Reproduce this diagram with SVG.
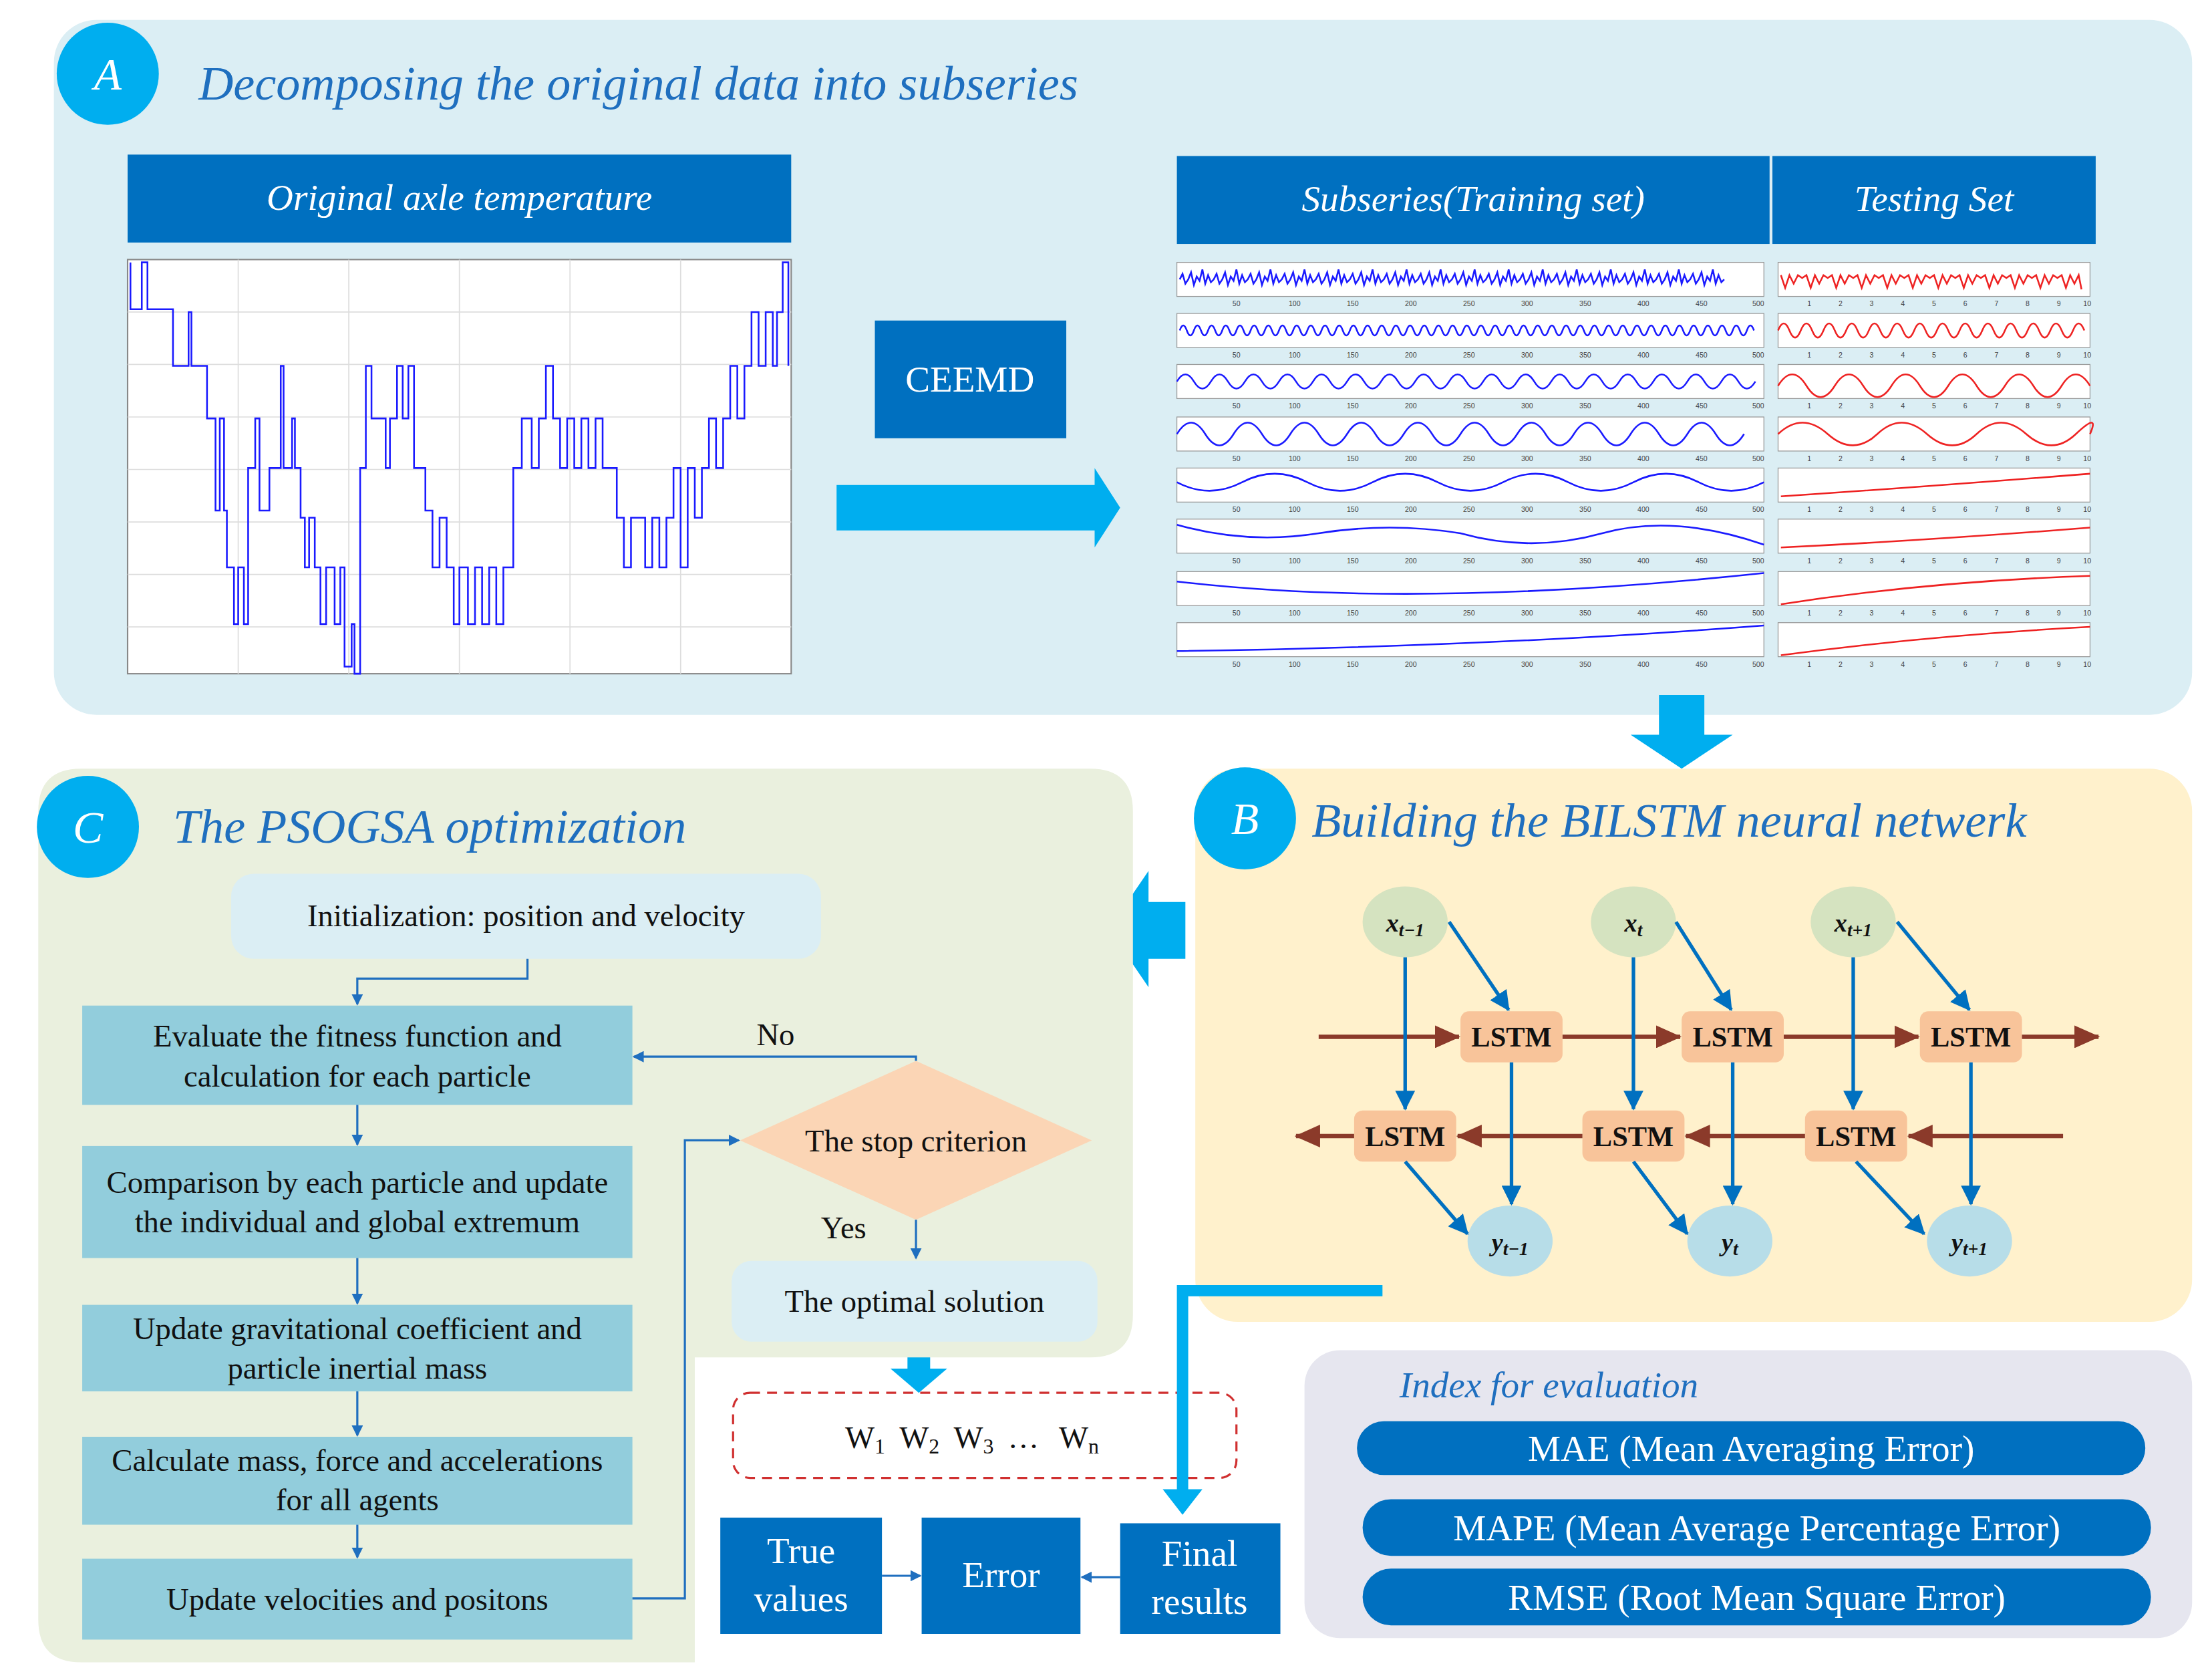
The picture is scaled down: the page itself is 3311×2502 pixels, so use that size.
<svg xmlns="http://www.w3.org/2000/svg" xmlns:xlink="http://www.w3.org/1999/xlink" width="3311" height="2502" viewBox="0 0 3311 2502" font-family="'Liberation Serif', 'DejaVu Serif', serif">
<style>
text{font-family:'Liberation Serif','DejaVu Serif',serif}
.ti{font-style:italic;fill:#1f6fbf;font-size:34px}
.hd{font-style:italic;fill:#fff;font-size:26px;text-anchor:middle}
.wt{fill:#fff;font-size:26px;text-anchor:middle}
.bk{fill:#111;font-size:22px;text-anchor:middle}
.lst{fill:#111;font-size:20px;font-weight:bold;text-anchor:middle}
.var{fill:#111;font-size:18px;font-style:italic;font-weight:bold;text-anchor:middle}
.tk{font-family:'Liberation Sans',Arial,sans-serif;font-size:5px;fill:#444;text-anchor:middle}
.fl{fill:none;stroke:#1f6fbf;stroke-width:1.5}
.bl{fill:none;stroke:#0070c0;stroke-width:2.5}
.rd{fill:none;stroke:#8b3a2a;stroke-width:3}
.sl{fill:none;stroke:#1a1aff;stroke-width:1.2}
.sr{fill:none;stroke:#ee2222;stroke-width:1.2}
.frm{fill:#fff;stroke:#999;stroke-width:0.6}
</style>
<defs>
<marker id="mf" markerWidth="8" markerHeight="8" refX="7" refY="4" orient="auto" markerUnits="userSpaceOnUse"><path d="M0,0 L8,4 L0,8z" fill="#1f6fbf"/></marker>
<marker id="mb" markerWidth="14" markerHeight="14" refX="13" refY="7" orient="auto" markerUnits="userSpaceOnUse"><path d="M0,0 L14,7 L0,14z" fill="#0070c0"/></marker>
<marker id="mr" markerWidth="18" markerHeight="16" refX="17" refY="8" orient="auto" markerUnits="userSpaceOnUse"><path d="M0,0 L18,8 L0,16z" fill="#8b3a2a"/></marker>
<g id="tkL"><text class="tk" x="872">50</text><text class="tk" x="913">100</text><text class="tk" x="954">150</text><text class="tk" x="995">200</text><text class="tk" x="1036">250</text><text class="tk" x="1077">300</text><text class="tk" x="1118">350</text><text class="tk" x="1159">400</text><text class="tk" x="1200">450</text><text class="tk" x="1240">500</text></g>
<g id="tkR"><text class="tk" x="1276">1</text><text class="tk" x="1298">2</text><text class="tk" x="1320">3</text><text class="tk" x="1342">4</text><text class="tk" x="1364">5</text><text class="tk" x="1386">6</text><text class="tk" x="1408">7</text><text class="tk" x="1430">8</text><text class="tk" x="1452">9</text><text class="tk" x="1472">10</text></g>
</defs>
<rect width="3311" height="2502" fill="#fff"/>
<g transform="scale(2.1224)">
<g id="panelA">
<rect x="38" y="14" width="1508" height="490" rx="30" fill="#dbeef4"/>
<circle cx="76" cy="52" r="36" fill="#00aeef"/>
<text x="76" y="63" class="hd" style="font-size:32px">A</text>
<text x="140" y="70" class="ti">Decomposing the original data into subseries</text>
</g>
<g id="origHeader"><rect x="90" y="109" width="468" height="62" fill="#0070c0"/><text x="324" y="148" class="hd">Original axle temperature</text></g>
<g id="origPlot">
<rect x="90" y="183" width="468" height="292" fill="#fff" stroke="#888"/>
<path d="M168,183V475M246,183V475M324,183V475M402,183V475M480,183V475M90,220H558M90,257H558M90,294H558M90,331H558M90,368H558M90,405H558M90,442H558" stroke="#ddd" stroke-width="0.8"/>
<path class="sl" d="M92,185 V218 H100 V185 H104 V218 H122 V258 H133 V220 H135 V258 H146 V295 H152 V360 H155 V295 H158 V360 H160 V400 H165 V440 H168 V400 H172 V440 H175 V330 H180 V295 H183 V360 H190 V330 H198 V258 H200 V330 H206 V295 H208 V330 H212 V365 H215 V400 H218 V365 H222 V400 H226 V440 H230 V400 H236 V440 H240 V400 H243 V470 H248 V440 H250 V475 H254 V330 H258 V258 H262 V295 H272 V330 H275 V295 H280 V258 H284 V295 H288 V258 H292 V330 H300 V360 H305 V400 H310 V365 H315 V400 H320 V440 H324 V400 H330 V440 H335 V400 H340 V440 H345 V400 H350 V440 H355 V400 H362 V330 H368 V295 H375 V330 H380 V295 H385 V258 H390 V295 H395 V330 H400 V295 H405 V330 H410 V295 H415 V330 H420 V295 H425 V330 H435 V365 H440 V400 H445 V365 H455 V400 H460 V365 H465 V400 H470 V365 H475 V330 H480 V400 H485 V330 H490 V365 H495 V330 H500 V295 H505 V330 H510 V295 H515 V258 H520 V295 H525 V258 H530 V220 H535 V258 H540 V220 H545 V258 H548 V220 H552 V185 H556 V258"/>
</g>
<g id="ceemd"><rect x="617" y="226" width="135" height="83" fill="#0070c0"/><text x="684" y="276" class="wt">CEEMD</text></g>
<g id="subHeader"><rect x="830" y="110" width="418" height="62" fill="#0070c0"/><text x="1039" y="149" class="hd">Subseries(Training set)</text></g>
<g id="testHeader"><rect x="1250" y="110" width="228" height="62" fill="#0070c0"/><text x="1364" y="149" class="hd">Testing Set</text></g>
<g id="subplots">
<rect class="frm" x="830" y="185" width="414" height="24"/><rect class="frm" x="830" y="221" width="414" height="24"/><rect class="frm" x="830" y="257" width="414" height="24"/><rect class="frm" x="830" y="294" width="414" height="24"/><rect class="frm" x="830" y="330" width="414" height="24"/><rect class="frm" x="830" y="366" width="414" height="24"/><rect class="frm" x="830" y="403" width="414" height="24"/><rect class="frm" x="830" y="439" width="414" height="24"/>
<rect class="frm" x="1254" y="185" width="220" height="24"/><rect class="frm" x="1254" y="221" width="220" height="24"/><rect class="frm" x="1254" y="257" width="220" height="24"/><rect class="frm" x="1254" y="294" width="220" height="24"/><rect class="frm" x="1254" y="330" width="220" height="24"/><rect class="frm" x="1254" y="366" width="220" height="24"/><rect class="frm" x="1254" y="403" width="220" height="24"/><rect class="frm" x="1254" y="439" width="220" height="24"/>
<use xlink:href="#tkL" y="216"/><use xlink:href="#tkL" y="252"/><use xlink:href="#tkL" y="288"/><use xlink:href="#tkL" y="325"/><use xlink:href="#tkL" y="361"/><use xlink:href="#tkL" y="397"/><use xlink:href="#tkL" y="434"/><use xlink:href="#tkL" y="470"/>
<use xlink:href="#tkR" y="216"/><use xlink:href="#tkR" y="252"/><use xlink:href="#tkR" y="288"/><use xlink:href="#tkR" y="325"/><use xlink:href="#tkR" y="361"/><use xlink:href="#tkR" y="397"/><use xlink:href="#tkR" y="434"/><use xlink:href="#tkR" y="470"/>
<path class="sl" d="M832,197 l2,-4 l2,7 l2,-3 l2,-5 l2,9 l2,-6 l2,3 l2,-8 l2,10 l2,-6 l2,5 l2,-2 l2,-4 l2,7 l2,-3 l2,-5 l2,9 l2,-6 l2,3 l2,-8 l2,10 l2,-6 l2,5 l2,-2 l2,-4 l2,7 l2,-3 l2,-5 l2,9 l2,-6 l2,3 l2,-8 l2,10 l2,-6 l2,5 l2,-2 l2,-4 l2,7 l2,-3 l2,-5 l2,9 l2,-6 l2,3 l2,-8 l2,10 l2,-6 l2,5 l2,-2 l2,-4 l2,7 l2,-3 l2,-5 l2,9 l2,-6 l2,3 l2,-8 l2,10 l2,-6 l2,5 l2,-2 l2,-4 l2,7 l2,-3 l2,-5 l2,9 l2,-6 l2,3 l2,-8 l2,10 l2,-6 l2,5 l2,-2 l2,-4 l2,7 l2,-3 l2,-5 l2,9 l2,-6 l2,3 l2,-8 l2,10 l2,-6 l2,5 l2,-2 l2,-4 l2,7 l2,-3 l2,-5 l2,9 l2,-6 l2,3 l2,-8 l2,10 l2,-6 l2,5 l2,-2 l2,-4 l2,7 l2,-3 l2,-5 l2,9 l2,-6 l2,3 l2,-8 l2,10 l2,-6 l2,5 l2,-2 l2,-4 l2,7 l2,-3 l2,-5 l2,9 l2,-6 l2,3 l2,-8 l2,10 l2,-6 l2,5 l2,-2 l2,-4 l2,7 l2,-3 l2,-5 l2,9 l2,-6 l2,3 l2,-8 l2,10 l2,-6 l2,5 l2,-2 l2,-4 l2,7 l2,-3 l2,-5 l2,9 l2,-6 l2,3 l2,-8 l2,10 l2,-6 l2,5 l2,-2 l2,-4 l2,7 l2,-3 l2,-5 l2,9 l2,-6 l2,3 l2,-8 l2,10 l2,-6 l2,5 l2,-2 l2,-4 l2,7 l2,-3 l2,-5 l2,9 l2,-6 l2,3 l2,-8 l2,10 l2,-6 l2,5 l2,-2 l2,-4 l2,7 l2,-3 l2,-5 l2,9 l2,-6 l2,3 l2,-8 l2,10 l2,-6 l2,5 l2,-2 l2,-4 l2,7 l2,-3 l2,-5 l2,9 l2,-6 l2,3 l2,-8 l2,10 l2,-6 l2,5 l2,-2"/>
<path class="sl" d="M832,233 q2.5,-7 5,0 t5,0 t5,0 t5,0 t5,0 t5,0 t5,0 t5,0 t5,0 t5,0 t5,0 t5,0 t5,0 t5,0 t5,0 t5,0 t5,0 t5,0 t5,0 t5,0 t5,0 t5,0 t5,0 t5,0 t5,0 t5,0 t5,0 t5,0 t5,0 t5,0 t5,0 t5,0 t5,0 t5,0 t5,0 t5,0 t5,0 t5,0 t5,0 t5,0 t5,0 t5,0 t5,0 t5,0 t5,0 t5,0 t5,0 t5,0 t5,0 t5,0 t5,0 t5,0 t5,0 t5,0 t5,0 t5,0 t5,0 t5,0 t5,0 t5,0 t5,0 t5,0 t5,0 t5,0 t5,0 t5,0 t5,0 t5,0 t5,0 t5,0 t5,0 t5,0 t5,0 t5,0 t5,0 t5,0 t5,0 t5,0 t5,0 t5,0 t5,0"/>
<path class="sl" d="M830,269 q6,-10 12,0 t12,0 t12,0 t12,0 t12,0 t12,0 t12,0 t12,0 t12,0 t12,0 t12,0 t12,0 t12,0 t12,0 t12,0 t12,0 t12,0 t12,0 t12,0 t12,0 t12,0 t12,0 t12,0 t12,0 t12,0 t12,0 t12,0 t12,0 t12,0 t12,0 t12,0 t12,0 t12,0 t12,0"/>
<path class="sl" d="M830,306 q10,-16 20,0 t20,0 t20,0 t20,0 t20,0 t20,0 t20,0 t20,0 t20,0 t20,0 t20,0 t20,0 t20,0 t20,0 t20,0 t20,0 t20,0 t20,0 t20,0 t20,0"/>
<path class="sl" d="M830,340 q23,12 46,0 t46,0 t46,0 t46,0 t46,0 t46,0 t46,0 t46,0 t46,0"/>
<path class="sl" d="M830,370 q50,14 100,6 q50,-8 100,0 q50,14 100,0 q50,-14 114,8"/>
<path class="sl" d="M830,410 Q1000,430 1244,404"/>
<path class="sl" d="M830,459 Q1050,456 1244,441"/>
<path class="sr" d="M1256,194 l3,9 l3,-9 l3,6 l3,-6 l3,2 l3,-2 l3,9 l3,-9 l3,6 l3,-6 l3,2 l3,-2 l3,9 l3,-9 l3,6 l3,-6 l3,2 l3,-2 l3,9 l3,-9 l3,6 l3,-6 l3,2 l3,-2 l3,9 l3,-9 l3,6 l3,-6 l3,2 l3,-2 l3,9 l3,-9 l3,6 l3,-6 l3,2 l3,-2 l3,9 l3,-9 l3,6 l3,-6 l3,2 l3,-2 l3,9 l3,-9 l3,6 l3,-6 l3,2 l3,-2 l3,9 l3,-9 l3,6 l3,-6 l3,2 l3,-2 l3,9 l3,-9 l3,6 l3,-6 l3,2 l3,-2 l3,9 l3,-9 l3,6 l3,-6 l3,2 l3,-2 l3,9 l3,-9 l3,6 l3,-6 l2,10"/>
<path class="sr" d="M1254,233 q4,-10 8,0 t8,0 t8,0 t8,0 t8,0 t8,0 t8,0 t8,0 t8,0 t8,0 t8,0 t8,0 t8,0 t8,0 t8,0 t8,0 t8,0 t8,0 t8,0 t8,0 t8,0 t8,0 t8,0 t8,0 t8,0 t8,0 t8,0"/>
<path class="sr" d="M1254,272 q10,-16 20,0 t20,0 t20,0 t20,0 t20,0 t20,0 t20,0 t20,0 t20,0 t20,0 t20,0"/>
<path class="sr" d="M1254,306 q17,-16 35,0 t35,0 t35,0 t35,0 t35,0 t35,0 t10,0"/>
<path class="sr" d="M1256,350 Q1360,343 1474,334"/>
<path class="sr" d="M1256,386 Q1360,381 1474,372"/>
<path class="sr" d="M1256,426 Q1360,410 1474,406"/>
<path class="sr" d="M1256,462 Q1360,448 1474,442"/>
</g>
<g id="bigArrows">
<path d="M590,342 H772 V330 L790,358 L772,386 V374 H590z" fill="#00aeef"/>
<path d="M1170,490 H1202 V518 H1222 L1186,542 L1150,518 H1170z" fill="#00aeef"/>
<path d="M836,636 H810 V614 L782,655 L810,696 V676 H836z" fill="#00aeef"/>
<path d="M640,939 H656 V965 H668 L648,982 L628,965 H640z" fill="#00aeef"/>
</g>
<g id="panelC">
<path d="M57,542 H769 Q799,542 799,572 V927 Q799,957 769,957 H490 V1172 H57 Q27,1172 27,1142 V572 Q27,542 57,542z" fill="#eaf0de"/>
<circle cx="62" cy="583" r="36" fill="#00aeef"/>
<text x="62" y="594" class="hd" style="font-size:32px">C</text>
<text x="122" y="594" class="ti">The PSOGSA optimization</text>
</g>
<g id="init"><rect x="163" y="616" width="416" height="60" rx="16" fill="#dbeef4"/><text x="371" y="653" class="bk">Initialization: position and velocity</text></g>
<g id="eval"><rect x="58" y="709" width="388" height="70" fill="#92cddc"/><text x="252" y="738" class="bk">Evaluate the fitness function and</text><text x="252" y="766" class="bk">calculation for each particle</text></g>
<g id="compare"><rect x="58" y="808" width="388" height="79" fill="#92cddc"/><text x="252" y="841" class="bk">Comparison by each particle and update</text><text x="252" y="869" class="bk">the individual and global extremum</text></g>
<g id="gravity"><rect x="58" y="920" width="388" height="61" fill="#92cddc"/><text x="252" y="944" class="bk">Update gravitational coefficient and</text><text x="252" y="972" class="bk">particle inertial mass</text></g>
<g id="mass"><rect x="58" y="1013" width="388" height="62" fill="#92cddc"/><text x="252" y="1037" class="bk">Calculate mass, force and accelerations</text><text x="252" y="1065" class="bk">for all agents</text></g>
<g id="velocity"><rect x="58" y="1099" width="388" height="57" fill="#92cddc"/><text x="252" y="1135" class="bk">Update velocities and positons</text></g>
<g id="stop"><path d="M646,748 L770,804 L646,860 L522,804z" fill="#fbd5b5"/><text x="646" y="812" class="bk">The stop criterion</text></g>
<g id="optimal"><rect x="516" y="889" width="258" height="57" rx="14" fill="#dbeef4"/><text x="645" y="925" class="bk">The optimal solution</text></g>
<g id="weights"><rect x="517" y="982" width="355" height="60" rx="12" fill="none" stroke="#d03030" stroke-width="1.5" stroke-dasharray="7,5"/>
<text x="596" y="1021" class="bk" style="text-anchor:start">W<tspan font-size="15" dy="4">1</tspan><tspan dy="-4" dx="10">W</tspan><tspan font-size="15" dy="4">2</tspan><tspan dy="-4" dx="10">W</tspan><tspan font-size="15" dy="4">3</tspan><tspan dy="-4" dx="10">…</tspan><tspan dx="14">W</tspan><tspan font-size="15" dy="4">n</tspan></text></g>
<g id="trueVals"><rect x="508" y="1070" width="114" height="82" fill="#0070c0"/><text x="565" y="1102" class="wt">True</text><text x="565" y="1136" class="wt">values</text></g>
<g id="error"><rect x="650" y="1070" width="112" height="82" fill="#0070c0"/><text x="706" y="1119" class="wt">Error</text></g>
<g id="final"><rect x="790" y="1074" width="113" height="78" fill="#0070c0"/><text x="846" y="1104" class="wt">Final</text><text x="846" y="1138" class="wt">results</text></g>
<g id="panelB">
<rect x="843" y="542" width="703" height="390" rx="30" fill="#fff1cc"/>
<circle cx="878" cy="577" r="36" fill="#00aeef"/>
<text x="878" y="588" class="hd" style="font-size:32px">B</text>
<text x="925" y="590" class="ti">Building the BILSTM neural netwerk</text>
</g>
<g id="xnodes">
<ellipse cx="991" cy="650" rx="30" ry="25" fill="#d5e3c0"/><text x="991" y="657" class="var">x<tspan font-size="13" dy="3">t−1</tspan></text>
<ellipse cx="1152" cy="650" rx="30" ry="25" fill="#d5e3c0"/><text x="1152" y="657" class="var">x<tspan font-size="13" dy="3">t</tspan></text>
<ellipse cx="1307" cy="650" rx="30" ry="25" fill="#d5e3c0"/><text x="1307" y="657" class="var">x<tspan font-size="13" dy="3">t+1</tspan></text>
</g>
<g id="ynodes">
<ellipse cx="1065" cy="875" rx="30" ry="25" fill="#b7dde8"/><text x="1065" y="882" class="var">y<tspan font-size="13" dy="3">t−1</tspan></text>
<ellipse cx="1220" cy="875" rx="30" ry="25" fill="#b7dde8"/><text x="1220" y="882" class="var">y<tspan font-size="13" dy="3">t</tspan></text>
<ellipse cx="1389" cy="875" rx="30" ry="25" fill="#b7dde8"/><text x="1389" y="882" class="var">y<tspan font-size="13" dy="3">t+1</tspan></text>
</g>
<g id="lstmTop">
<rect x="1030" y="713" width="72" height="36" rx="6" fill="#f8c49a"/><text x="1066" y="738" class="lst">LSTM</text>
<rect x="1186" y="713" width="72" height="36" rx="6" fill="#f8c49a"/><text x="1222" y="738" class="lst">LSTM</text>
<rect x="1354" y="713" width="72" height="36" rx="6" fill="#f8c49a"/><text x="1390" y="738" class="lst">LSTM</text>
</g>
<g id="lstmBottom">
<rect x="955" y="783" width="72" height="36" rx="6" fill="#f8c49a"/><text x="991" y="808" class="lst">LSTM</text>
<rect x="1116" y="783" width="72" height="36" rx="6" fill="#f8c49a"/><text x="1152" y="808" class="lst">LSTM</text>
<rect x="1273" y="783" width="72" height="36" rx="6" fill="#f8c49a"/><text x="1309" y="808" class="lst">LSTM</text>
</g>
<g id="indexPanel">
<rect x="920" y="952" width="626" height="203" rx="25" fill="#e6e6ef"/>
<text x="987" y="985" class="ti" style="font-size:26px">Index for evaluation</text>
</g>
<g id="mae"><rect x="957" y="1002" width="556" height="38" rx="19" fill="#0070c0"/><text x="1235" y="1030" class="wt">MAE (Mean Averaging Error)</text></g>
<g id="mape"><rect x="961" y="1057" width="556" height="40" rx="20" fill="#0070c0"/><text x="1239" y="1086" class="wt">MAPE (Mean Average Percentage Error)</text></g>
<g id="rmse"><rect x="961" y="1106" width="556" height="40" rx="20" fill="#0070c0"/><text x="1239" y="1135" class="wt">RMSE (Root Mean Square Error)</text></g>
<g id="connectors">
<path class="fl" d="M372,676 V690 H252 V708" marker-end="url(#mf)"/>
<path class="fl" d="M252,779 V807" marker-end="url(#mf)"/>
<path class="fl" d="M252,887 V919" marker-end="url(#mf)"/>
<path class="fl" d="M252,981 V1012" marker-end="url(#mf)"/>
<path class="fl" d="M252,1075 V1098" marker-end="url(#mf)"/>
<path class="fl" d="M446,1127 H483 V804 H521" marker-end="url(#mf)"/>
<path class="fl" d="M646,748 V745 H447" marker-end="url(#mf)"/>
<path class="fl" d="M646,860 V887" marker-end="url(#mf)"/>
<text x="547" y="737" class="bk">No</text>
<text x="595" y="873" class="bk">Yes</text>
<path class="fl" d="M622,1111 H649" marker-end="url(#mf)"/>
<path class="fl" d="M790,1112 H763" marker-end="url(#mf)"/>
<path d="M975,910 H834 V1052" fill="none" stroke="#00aeef" stroke-width="8"/>
<path d="M820,1050 H848 L834,1068z" fill="#00aeef"/>
<path class="rd" d="M930,731 H1029" marker-end="url(#mr)"/>
<path class="rd" d="M1102,731 H1185" marker-end="url(#mr)"/>
<path class="rd" d="M1258,731 H1353" marker-end="url(#mr)"/>
<path class="rd" d="M1426,731 H1480" marker-end="url(#mr)"/>
<path class="rd" d="M1455,801 H1346" marker-end="url(#mr)"/>
<path class="rd" d="M1273,801 H1189" marker-end="url(#mr)"/>
<path class="rd" d="M1116,801 H1028" marker-end="url(#mr)"/>
<path class="rd" d="M955,801 H914" marker-end="url(#mr)"/>
<path class="bl" d="M991,675 V782" marker-end="url(#mb)"/>
<path class="bl" d="M1152,675 V782" marker-end="url(#mb)"/>
<path class="bl" d="M1307,675 V782" marker-end="url(#mb)"/>
<path class="bl" d="M1022,650 L1064,712" marker-end="url(#mb)"/>
<path class="bl" d="M1182,650 L1221,712" marker-end="url(#mb)"/>
<path class="bl" d="M1338,650 L1389,712" marker-end="url(#mb)"/>
<path class="bl" d="M1066,749 V849" marker-end="url(#mb)"/>
<path class="bl" d="M1222,749 V849" marker-end="url(#mb)"/>
<path class="bl" d="M1390,749 V849" marker-end="url(#mb)"/>
<path class="bl" d="M991,819 L1035,870" marker-end="url(#mb)"/>
<path class="bl" d="M1152,819 L1190,870" marker-end="url(#mb)"/>
<path class="bl" d="M1309,819 L1357,870" marker-end="url(#mb)"/>
</g>
</g>
</svg>
